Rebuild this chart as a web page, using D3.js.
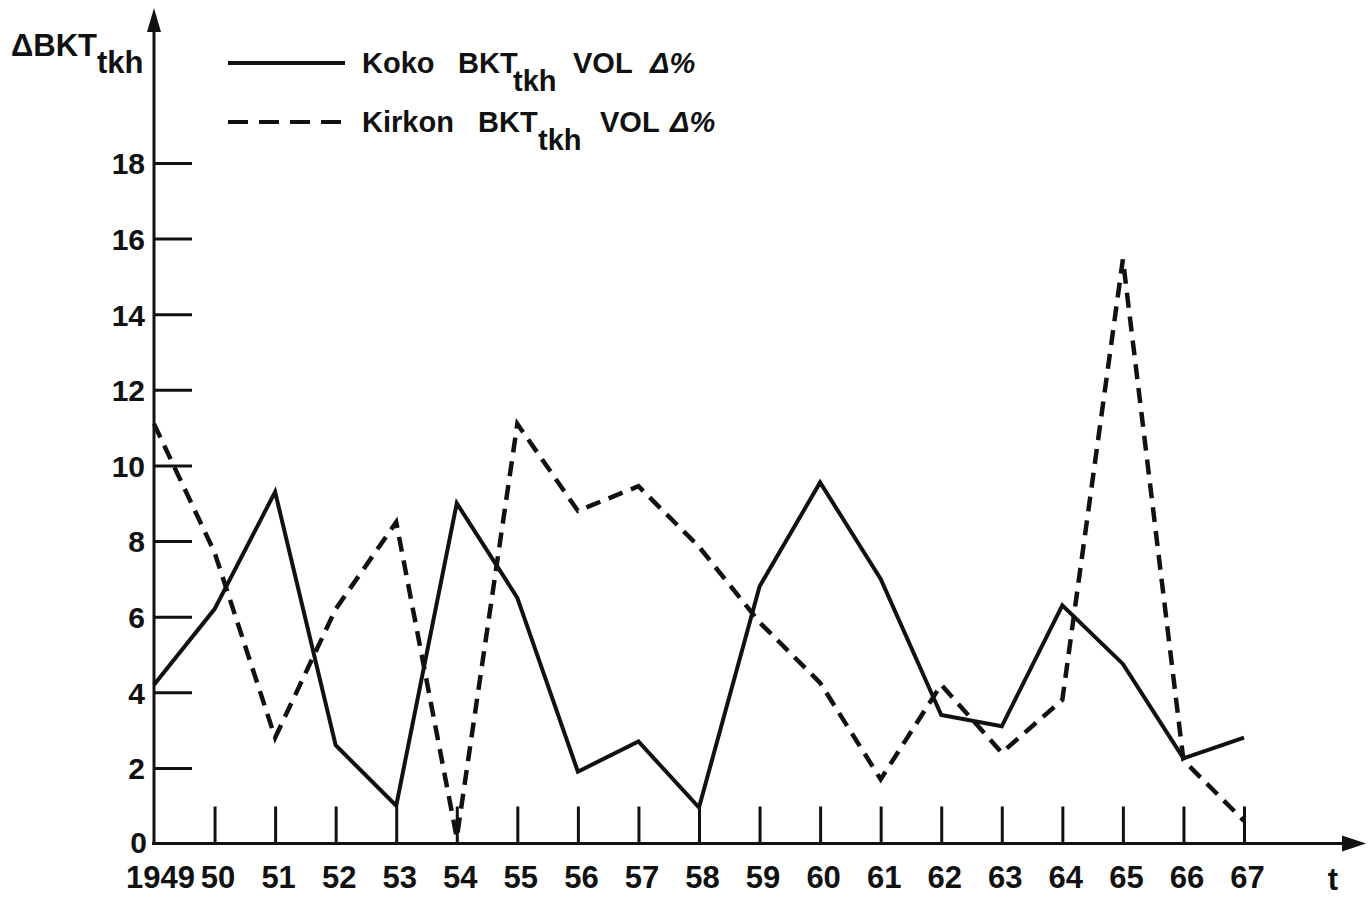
<!doctype html>
<html lang="en">
<head>
<meta charset="utf-8">
<script src="https://d3js.org/d3.v7.min.js"></script>
<style>
  body { margin: 0; background: #fff; }
  text { font-family: "Liberation Sans", Arial, sans-serif; font-weight: bold; fill: #111; }
</style>
</head>
<body>
<div id="chart"></div>
<script>
// years on the t axis
var years = [1949, 1950, 1951, 1952, 1953, 1954, 1955, 1956, 1957, 1958,
             1959, 1960, 1961, 1962, 1963, 1964, 1965, 1966, 1967];
// Koko BKT_tkh VOL Δ% (solid)
var koko = [4.2, 6.2, 9.3, 2.6, 1.0, 9.0, 6.5, 1.9, 2.7, 0.95,
            6.8, 9.55, 7.0, 3.4, 3.1, 6.3, 4.75, 2.25, 2.8];
// Kirkon BKT_tkh VOL Δ% (dashed)
var kirkon = [11.1, 7.7, 2.8, 6.2, 8.5, 0.15, 11.1, 8.8, 9.45, 7.85,
              5.85, 4.25, 1.7, 4.2, 2.4, 3.8, 15.45, 2.2, 0.6];
var yTicks = [0, 2, 4, 6, 8, 10, 12, 14, 16, 18];
var xTickLabels = ["1949", "50", "51", "52", "53", "54", "55", "56", "57", "58",
                   "59", "60", "61", "62", "63", "64", "65", "66", "67"];

var W = 1369, H = 898;
var svg = d3.select("#chart").append("svg")
    .attr("width", W).attr("height", H);

var x = d3.scaleLinear().domain([1949, 1967]).range([154, 1244]);
var y = d3.scaleLinear().domain([0, 18]).range([843.5, 163]);
var x0 = x(1949), y0 = y(0);

// y axis: ticks pointing right, labels on left
var yAxis = svg.append("g")
    .attr("transform", "translate(" + x0 + ",0)")
    .call(d3.axisLeft(y).tickValues(yTicks).tickSizeInner(-38).tickSizeOuter(0).tickPadding(8));
yAxis.select(".domain").remove();
yAxis.selectAll(".tick line").attr("stroke", "#111").attr("stroke-width", 3)
    .attr("display", function (d) { return d === 0 ? "none" : null; });
yAxis.selectAll(".tick text").attr("font-size", 30).attr("fill", "#111")
    .attr("x", function (d) { return d === 0 ? -7 : -9; })
    .attr("dy", function (d) { return d === 0 ? "0.3em" : "0.36em"; });

// x axis: ticks pointing up, labels below
var xAxis = svg.append("g")
    .attr("transform", "translate(0," + y0 + ")")
    .call(d3.axisBottom(x).tickValues(years).tickSizeInner(-37).tickSizeOuter(0).tickPadding(22)
        .tickFormat(function (d, i) { return xTickLabels[i]; }));
xAxis.select(".domain").remove();
xAxis.selectAll(".tick line").attr("stroke", "#111").attr("stroke-width", 3)
    .attr("display", function (d) { return d === 1949 ? "none" : null; });
xAxis.selectAll(".tick text").attr("font-size", 31).attr("fill", "#111")
    .attr("dx", function (d) { return d === 1949 ? 6 : 3; });

// axis lines with arrow heads
svg.append("line").attr("x1", x0).attr("y1", y0).attr("x2", x0).attr("y2", 28)
    .attr("stroke", "#111").attr("stroke-width", 3);
svg.append("path").attr("d", "M" + x0 + ",8 L" + (x0 - 7) + ",32 L" + (x0 + 7) + ",32 Z")
    .attr("fill", "#111");
svg.append("line").attr("x1", x0 - 2).attr("y1", y0).attr("x2", 1350).attr("y2", y0)
    .attr("stroke", "#111").attr("stroke-width", 3);
svg.append("path").attr("d", "M1366," + y0 + " L1342," + (y0 - 8) + " L1342," + (y0 + 8) + " Z")
    .attr("fill", "#111");

svg.append("text").attr("x", 1333).attr("y", 890).attr("font-size", 31)
    .attr("text-anchor", "middle").text("t");

// axis title
var title = svg.append("text").attr("x", 11).attr("y", 56).attr("font-size", 31);
title.append("tspan").text("\u0394BKT");
title.append("tspan").attr("dy", 17).attr("font-size", 31).text("tkh");

// lines
var line = d3.line()
    .x(function (d, i) { return x(years[i]); })
    .y(function (d) { return y(d); });

svg.append("path").datum(koko)
    .attr("fill", "none").attr("stroke", "#111").attr("stroke-width", 4)
    .attr("stroke-linejoin", "miter").attr("d", line);

svg.append("path").datum(kirkon)
    .attr("fill", "none").attr("stroke", "#111").attr("stroke-width", 4.5)
    .attr("stroke-dasharray", "15,9").attr("d", line);

// legend (word positions)
var legend = [
  { name: "Koko", dash: null, ly: 63, words: [362, 458, 513, 573, 650] },
  { name: "Kirkon", dash: "20,11", ly: 122, words: [362, 478, 538, 600, 670] }
];
legend.forEach(function (l) {
  svg.append("line").attr("x1", 228).attr("x2", 345).attr("y1", l.ly).attr("y2", l.ly)
      .attr("stroke", "#111").attr("stroke-width", 4)
      .attr("stroke-dasharray", l.dash);
  var t = svg.append("text").attr("y", l.ly + 10).attr("font-size", 29);
  t.append("tspan").attr("x", l.words[0]).text(l.name);
  t.append("tspan").attr("x", l.words[1]).text("BKT");
  t.append("tspan").attr("x", l.words[2]).attr("dy", 18).text("tkh");
  t.append("tspan").attr("x", l.words[3]).attr("dy", -18).text("VOL");
  t.append("tspan").attr("x", l.words[4]).attr("font-style", "italic").text("\u0394%");
});
</script>
</body>
</html>
